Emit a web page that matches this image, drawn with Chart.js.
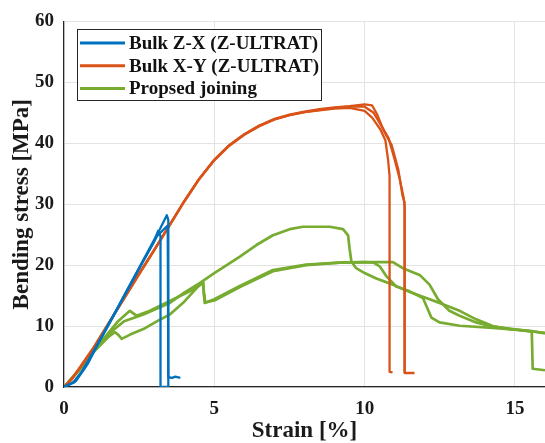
<!DOCTYPE html>
<html>
<head>
<meta charset="utf-8">
<script src="https://cdn.jsdelivr.net/npm/chart.js@4.4.1/dist/chart.umd.min.js"></script>
<style>
  html, body { margin: 0; padding: 0; background: #fff; }
  #wrap { width: 545px; height: 443px; position: relative; }
</style>
</head>
<body>
<div id="wrap"><canvas id="chart" width="545" height="443"></canvas></div>
<script>
// tick values
const xTicks = [0, 5, 10, 15];
const yTicks = [0, 10, 20, 30, 40, 50, 60];

const seriesNames = ['Bulk Z-X (Z-ULTRAT)', 'Bulk X-Y (Z-ULTRAT)', 'Propsed joining'];
const seriesColors = ['#0072BD', '#D95319', '#77AC30'];

// Bulk Z-X specimens, [strain %, stress MPa]
const zxA = [[0,0],[0.3,0.7],[0.6,2.6],[1,6],[1.5,10.4],[2,14.9],[2.5,19.4],[3,23.9],[3.13,25.6],[3.21,24.8],[3.21,0],[3.34,0]];
const zxB = [[0,0],[0.4,1],[0.8,3.9],[1.2,7.7],[1.7,12.2],[2.2,16.8],[2.7,21.4],[3.2,26],[3.42,28.2],[3.47,27.4],[3.47,0],[3.34,0]];
const zxC = [[0,0],[0.35,0.8],[0.7,3.2],[1.1,6.8],[1.6,11.3],[2.1,15.9],[2.6,20.4],[3.1,24.8],[3.45,26.5],[3.47,1.6],[3.6,1.5],[3.7,1.7],[3.87,1.5]];

// Bulk X-Y specimens
const xyA = [[0,0],[0.25,1.3],[0.5,3],[1,6.6],[1.5,10.6],[2,14.6],[2.5,18.6],[3,22.5],[3.5,26.5],[4,30.5],[4.5,34.2],[5,37.3],[5.5,39.7],[6,41.5],[6.5,42.9],[7,44],[7.5,44.7],[8,45.2],[8.5,45.6],[9,45.9],[9.5,46.1],[10,46.4],[10.25,46.2],[10.41,44.8],[10.63,42.1],[10.9,39.7],[11.12,35.7],[11.26,31.4],[11.33,30.3],[11.33,2.3],[11.66,2.3]];
const xyB = [[0,0],[0.25,1.2],[0.5,2.9],[1,6.5],[1.5,10.5],[2,14.5],[2.5,18.5],[3,22.4],[3.5,26.4],[4,30.4],[4.5,34.1],[5,37.2],[5.5,39.6],[6,41.4],[6.5,42.8],[7,43.9],[7.5,44.6],[8,45.1],[8.5,45.5],[9,45.8],[9.5,46],[10,46],[10.3,45],[10.58,42.7],[10.8,40.8],[11,37.3],[11.17,34.1],[11.3,31],[11.33,29.5],[11.33,2.5]];
const xyC = [[0,0],[0.25,1.2],[0.5,3],[1,6.6],[1.5,10.6],[2,14.6],[2.5,18.6],[3,22.5],[3.5,26.5],[4,30.5],[4.5,34.2],[5,37.3],[5.5,39.7],[6,41.5],[6.5,42.9],[7,43.9],[7.5,44.6],[8,45.1],[8.5,45.4],[9,45.7],[9.5,45.8],[10,45.3],[10.25,44.2],[10.52,42.3],[10.69,40.5],[10.78,37.3],[10.83,34.6],[10.83,2.5],[10.93,2.4]];

// Proposed joining specimens
const joinA = [[0,0],[0.5,2.7],[1,5.8],[1.5,8.3],[1.69,9],[1.8,8.6],[1.92,7.9],[2.2,8.6],[2.64,9.5],[3.13,10.9],[3.52,11.9],[4,14],[4.52,16.8],[4.62,17.3],[4.66,15],[4.7,13.9],[5,14.2],[5.85,16.4],[6.95,19],[8.06,20],[9.17,20.4],[10,20.5],[10.94,20.5],[11.27,19.5],[11.83,18.4],[12.16,16.8],[12.44,14.4],[12.82,12.5],[13.16,11.7],[13.71,10.6],[14.26,9.9],[14.82,9.6],[15.56,9.1],[15.59,3],[16,2.75]];
const joinB = [[0,0],[0.5,2.8],[1,6],[1.5,9],[1.8,10.8],[2.19,12.5],[2.41,11.7],[2.86,12.5],[3.52,14.1],[4.3,16],[4.63,17.1],[4.66,15],[4.68,13.8],[5,14.4],[5.85,16.6],[6.95,19.2],[8.06,20.1],[9.17,20.4],[10,20.5],[10.3,20.4],[10.5,19.8],[10.72,18.2],[11.05,16.5],[11.5,15.7],[11.94,14.6],[12.22,11.4],[12.49,10.6],[13.16,10.05],[14.26,9.7],[15,9.4],[16,8.9]];
const joinC = [[0,0],[0.5,2.8],[1,6],[1.5,8.8],[2,10.8],[2.64,11.9],[3.52,13.8],[4,15.5],[4.5,17],[5,18.7],[5.85,21.4],[6.4,23.3],[6.95,24.9],[7.51,25.9],[7.95,26.3],[8.84,26.3],[9.28,25.9],[9.45,24.9],[9.5,22.7],[9.56,20.6],[9.72,19.5],[10,18.7],[10.39,17.8],[10.94,16.8],[11.5,15.6],[12.05,14.6],[12.6,13.6],[13.16,12.5],[13.71,11.1],[14.26,10],[14.82,9.5],[15.5,9.2],[16,8.8]];

const groups = [[zxA, zxB, zxC], [xyA, xyB, xyC], [joinA, joinB, joinC]];

const datasets = [];
groups.forEach((specimens, g) => {
    specimens.forEach((pts, i) => {
        datasets.push({
            label: i === 0 ? seriesNames[g] : '',
            data: pts.map(p => ({ x: p[0], y: p[1] })),
            showLine: true,
            borderColor: seriesColors[g],
            backgroundColor: seriesColors[g],
            borderWidth: g === 2 ? 2.7 : 2.3,
            borderJoinStyle: 'round',
            pointRadius: 0,
            tension: 0
        });
    });
});

const serif = "'Liberation Serif', 'Times New Roman', serif";

// legend with a box, drawn inside the plot like MATLAB
const boxLegend = {
    id: 'boxLegend',
    afterDraw(chart) {
        const ctx = chart.ctx;
        ctx.save();
        ctx.fillStyle = '#fff';
        ctx.strokeStyle = '#262626';
        ctx.lineWidth = 1;
        ctx.fillRect(77.5, 29.5, 244, 71);
        ctx.strokeRect(77.5, 29.5, 244, 71);
        ctx.font = 'bold 19px ' + serif;
        ctx.textBaseline = 'middle';
        const rows = chart.data.datasets.filter(d => d.label);
        rows.forEach((d, i) => {
            const y = 43 + i * 22.7;
            ctx.strokeStyle = d.borderColor;
            ctx.lineWidth = 3;
            ctx.beginPath();
            ctx.moveTo(80, y);
            ctx.lineTo(125, y);
            ctx.stroke();
            ctx.fillStyle = '#111';
            ctx.fillText(d.label, 129, y + 1);
        });
        ctx.restore();
    }
};

new Chart(document.getElementById('chart'), {
    type: 'scatter',
    data: { datasets: datasets },
    options: {
        responsive: false,
        animation: false,
        events: [],
        layout: { padding: { top: 17, right: 0, left: 0, bottom: 0 } },
        plugins: {
            legend: { display: false },
            tooltip: { enabled: false }
        },
        scales: {
            x: {
                type: 'linear',
                min: 0,
                max: 16,
                afterBuildTicks: axis => { axis.ticks = xTicks.map(v => ({ value: v })); },
                afterFit: axis => { axis.height = 56; },
                grid: { color: '#e3e3e3', drawTicks: false },
                border: { color: '#262626', width: 1.2 },
                ticks: {
                    padding: 11,
                    color: '#1a1a1a',
                    font: { family: serif, size: 19, weight: 'bold' }
                },
                title: {
                    display: true,
                    text: 'Strain [%]',
                    color: '#1a1a1a',
                    padding: { top: 0, bottom: 0 },
                    font: { family: serif, size: 23, weight: 'bold', lineHeight: 1.0 }
                }
            },
            y: {
                min: 0,
                max: 60,
                afterBuildTicks: axis => { axis.ticks = yTicks.map(v => ({ value: v })); },
                afterFit: axis => { axis.width = 64; },
                grid: { color: '#e3e3e3', drawTicks: false },
                border: { color: '#262626', width: 1.2 },
                ticks: {
                    padding: 10,
                    color: '#1a1a1a',
                    font: { family: serif, size: 19, weight: 'bold' }
                },
                title: {
                    display: true,
                    text: 'Bending stress [MPa]',
                    color: '#1a1a1a',
                    padding: { top: 11, bottom: 0 },
                    font: { family: serif, size: 23, weight: 'bold', lineHeight: 1.0 }
                }
            }
        }
    },
    plugins: [boxLegend]
});
</script>
</body>
</html>
